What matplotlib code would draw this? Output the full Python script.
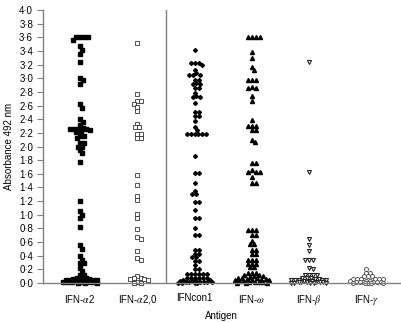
import numpy as np
import matplotlib
matplotlib.use("Agg")
import matplotlib.pyplot as plt
from matplotlib.ticker import FuncFormatter

plt.rcParams['font.family'] = ['Liberation Sans', 'DejaVu Sans']
plt.rcParams['mathtext.fontset'] = 'stix'

# antigen groups
labels = ["IFN-$\\alpha$2", "IFN-$\\alpha$2,0", "IFNcon1", "IFN-$\\omega$", "IFN-$\\beta$", "IFN-$\\gamma$"]

ifn_a2 = [3.6, 3.6, 3.6, 3.6, 3.56, 3.47, 3.42, 3.36, 3.24, 3.01, 2.98, 2.92, 2.62, 2.57,
          2.40, 2.36, 2.31, 2.27, 2.26, 2.26, 2.25, 2.25, 2.24, 2.22, 2.21, 2.15, 2.15, 2.12,
          2.05, 2.05, 2.0, 2.0, 1.95, 1.90, 1.77, 1.20, 1.05, 1.0, 0.95, 0.82, 0.55, 0.50,
          0.39, 0.34, 0.29, 0.29, 0.22, 0.17, 0.12, 0.12,
          0.0, 0.0, 0.0, 0.01, 0.01, 0.02, 0.02, 0.02, 0.03, 0.03, 0.04, 0.04, 0.05, 0.05,
          0.06, 0.06, 0.07, 0.07, 0.08, 0.01, 0.03, 0.05]
ifn_a20 = [3.52, 2.77, 2.66, 2.66, 2.63, 2.58, 2.52, 2.33, 2.28, 2.28, 2.19, 2.19, 2.12, 2.12,
           1.58, 1.43, 1.28, 1.22, 1.01, 0.95, 0.79, 0.68, 0.65, 0.47, 0.36, 0.34,
           0.10, 0.07, 0.06, 0.06, 0.05, 0.07, 0.01, 0.0, 0.0]
ifn_con1 = [3.41, 3.23, 3.23, 3.20, 3.23, 3.12, 3.07, 3.05, 3.05, 3.05, 2.98, 2.98, 2.92, 2.92,
            2.93, 2.86, 2.86, 2.79, 2.74, 2.72, 2.72, 2.64, 2.51, 2.51, 2.45, 2.45, 2.37, 2.28,
            2.24, 2.18, 2.18, 2.18, 2.18, 2.18, 2.19,
            1.86, 1.61, 1.61, 1.46, 1.35, 1.30, 1.30, 1.18, 1.18, 1.07, 0.96, 0.96, 0.81, 0.71,
            0.71, 0.49, 0.49, 0.43, 0.43, 0.38, 0.38, 0.33, 0.33, 0.26, 0.20, 0.20,
            0.13, 0.13, 0.13, 0.13, 0.13, 0.13, 0.07, 0.07, 0.07, 0.07, 0.07, 0.07,
            0.0, 0.0, 0.0, 0.01, 0.01, 0.01, 0.02, 0.02, 0.02, 0.03, 0.03, 0.03, 0.04, 0.04, 0.0]
ifn_omega = [3.6, 3.6, 3.6, 3.6, 3.39, 3.29, 3.17, 3.12, 2.98, 2.98, 2.98, 2.87, 2.85, 2.85,
             2.74, 2.66, 2.39, 2.30, 2.30, 2.30, 2.24, 2.24, 2.10, 2.07,
             1.76, 1.76, 1.65, 1.63, 1.63, 1.63, 1.55, 1.47, 1.47,
             0.78, 0.77, 0.77, 0.70, 0.70, 0.62, 0.57, 0.57, 0.49, 0.49, 0.43, 0.43,
             0.34, 0.34, 0.34, 0.28, 0.28, 0.28, 0.23, 0.23,
             0.15, 0.15, 0.14, 0.12, 0.12, 0.10, 0.10, 0.09, 0.08, 0.08, 0.07, 0.06, 0.06,
             0.05, 0.05, 0.04, 0.04, 0.03, 0.03, 0.02, 0.02, 0.01, 0.01, 0.0, 0.0, 0.0]
ifn_beta = [3.24, 1.62, 0.64, 0.55, 0.47, 0.34, 0.34, 0.34, 0.22, 0.20, 0.12, 0.12, 0.12, 0.12,
            0.08, 0.07, 0.07, 0.06, 0.06, 0.05, 0.05, 0.04, 0.04, 0.04, 0.03, 0.03, 0.03,
            0.02, 0.02, 0.02, 0.01, 0.01, 0.01, 0.0, 0.0, 0.0, 0.0, 0.0]
ifn_gamma = [0.21, 0.15, 0.15, 0.10, 0.10, 0.10, 0.06, 0.06, 0.06, 0.06, 0.06, 0.06,
             0.03, 0.03, 0.03, 0.02, 0.02, 0.02, 0.01, 0.01, 0.01, 0.0, 0.0, 0.0, 0.0, 0.0]

groups = [ifn_a2, ifn_a20, ifn_con1, ifn_omega, ifn_beta, ifn_gamma]
styles = [dict(marker='s', mfc='black', mec='black', ms=2.3),
          dict(marker='s', mfc='white', mec='#333333', ms=2.4, mew=0.6),
          dict(marker='D', mfc='black', mec='black', ms=2.0),
          dict(marker='^', mfc='black', mec='black', ms=2.9),
          dict(marker='v', mfc='white', mec='#222222', ms=2.9, mew=0.8),
          dict(marker='o', mfc='white', mec='#444444', ms=2.9, mew=0.6)]
half_width = [17, 13, 17, 18, 18, 17]   # max sideways spread in pixels

# pixel scales used to spread points like a swarm
px_y = 68.25   # pixels per absorbance unit
px_x = 57.2    # pixels per category
diam = 3.8


def swarm(vals, hw):
    vals = np.sort(np.array(vals))[::-1]
    placed = []
    offs = []
    cands = [0.0]
    k = 1
    while k * 0.25 <= hw:
        cands += [k * 0.25, -k * 0.25]
        k += 1
    for v in vals:
        y = v * px_y
        best, best_d = 0.0, -1.0
        for s in cands:
            d = min([np.hypot(px - s, py - y) for (px, py) in placed] or [99.0])
            if d >= diam:
                best = s
                break
            if d > best_d + 0.3:
                best, best_d = s, d
        placed.append((best, y))
        offs.append(best / px_x)
    return vals, np.array(offs)


fig = plt.figure(figsize=(4.01, 3.22), dpi=100)
ax = fig.add_axes([0.107, 0.121, 0.891, 0.848])

for i, (g, st) in enumerate(zip(groups, styles)):
    v, o = swarm(g, half_width[i])
    ax.plot(i + 1 + o, v, ls='none', clip_on=False, **st)

ax.axvline(2.5, color='#808080', lw=1.0, ymin=0, ymax=1)

ax.set_xlim(0.353, 6.59)
ax.set_ylim(0, 4.0)
ax.set_yticks(np.arange(0, 4.01, 0.2))
ax.yaxis.set_major_formatter(FuncFormatter(lambda y, p: ("%.1f" % y).replace('.', '\u00b7')))
ax.set_xticks(range(1, 7))
ax.set_xticklabels(labels)
ax.tick_params(axis='x', length=0, pad=7, labelsize=7)
ax.tick_params(axis='y', length=4, width=0.8, color='#808080', labelsize=7, pad=3)

for s in ['top', 'right']:
    ax.spines[s].set_visible(False)
for s in ['left', 'bottom']:
    ax.spines[s].set_color('#808080')
    ax.spines[s].set_linewidth(1.0)

ax.set_xlabel("Antigen", fontsize=7, labelpad=3)
ax.set_ylabel("Absorbance 492 nm", fontsize=7, labelpad=4)

fig.savefig("out.png", dpi=100)
